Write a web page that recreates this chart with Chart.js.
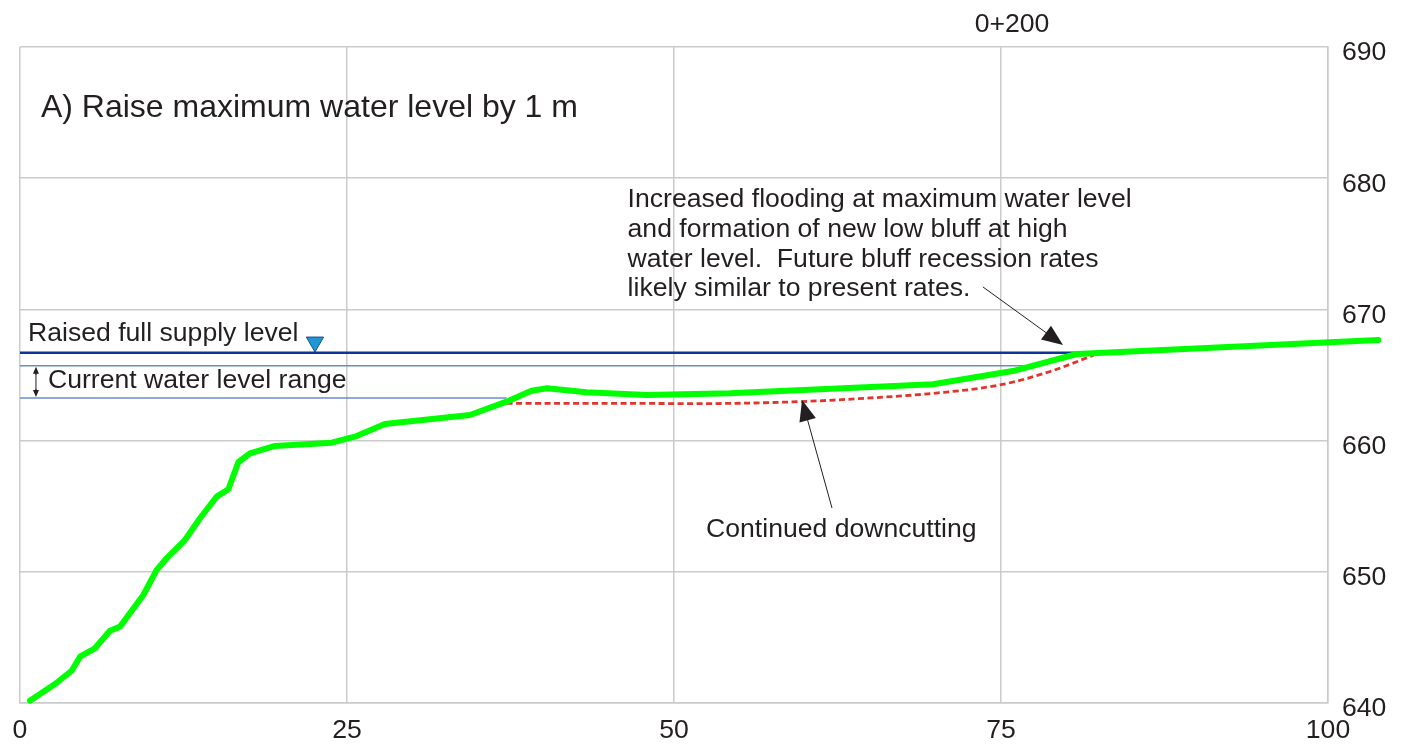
<!DOCTYPE html>
<html>
<head>
<meta charset="utf-8">
<title>Raise maximum water level by 1 m</title>
<script src="https://cdn.jsdelivr.net/npm/chart.js@4.4.1/dist/chart.umd.min.js"></script>
<style>
  html, body { margin: 0; padding: 0; background: #fff; }
  #wrap { width: 1405px; height: 745px; position: relative; }
</style>
</head>
<body>
<div id="wrap"><canvas id="chart"></canvas></div>
<script>
// Ground profile (distance, elevation)
const profileX = [0.76, 2.68, 3.95, 4.59, 5.73, 6.88, 7.65, 9.43, 10.45, 11.21, 12.61, 13.76,
  15.04, 15.93, 16.69, 17.58, 19.5, 23.83, 25.6, 27.9, 34.4, 37.2, 39.1, 40.3, 43.3, 47.9,
  54.3, 69.8, 75.9, 80.8, 103.85];
const profileY = [640.18, 641.45, 642.46, 643.53, 644.17, 645.51, 645.82, 648.23, 650.14, 651.03,
  652.42, 654.08, 655.73, 656.29, 658.35, 659.03, 659.59, 659.84, 660.3, 661.27, 661.95, 662.97,
  663.8, 663.99, 663.68, 663.48, 663.6, 664.3, 665.3, 666.6, 667.67];

// Future bed after continued downcutting
const downcutX = [37.2, 45, 52, 59.6, 65, 69.8, 74.9, 78.7, 82.06];
const downcutY = [662.84, 662.84, 662.82, 662.97, 663.25, 663.6, 664.24, 665.25, 666.5];

// Water levels
const raisedX = [0, 80.7];
const raisedY = [666.7, 666.7];
const currentHighX = [0, 77];
const currentHighY = [665.7, 665.7];
const currentLowX = [0, 37.2];
const currentLowY = [663.25, 663.25];
const markerX = [22.55];
const markerY = [667.51];

// Axis ticks
const xTicks = [0, 25, 50, 75, 100];
const yTicks = [640, 650, 660, 670, 680, 690];

const FONT = "'Liberation Sans', Arial, Helvetica, sans-serif";
const INK = '#231f20';
const GRID = '#cbcbcb';

function pts(xs, ys) {
  return xs.map((x, i) => ({ x: x, y: ys[i] }));
}

function arrow(ctx, x1, y1, x2, y2, len, half) {
  const a = Math.atan2(y2 - y1, x2 - x1);
  const c = Math.cos(a), s = Math.sin(a);
  ctx.beginPath();
  ctx.moveTo(x1, y1);
  ctx.lineTo(x2 - c * len * 0.8, y2 - s * len * 0.8);
  ctx.stroke();
  ctx.beginPath();
  ctx.moveTo(x2, y2);
  ctx.lineTo(x2 - c * len + s * half, y2 - s * len - c * half);
  ctx.lineTo(x2 - c * len - s * half, y2 - s * len + c * half);
  ctx.closePath();
  ctx.fill();
}

// Texts and arrows laid over the plot
const notes = {
  id: 'notes',
  afterDatasetsDraw(chart) {
    const ctx = chart.ctx;
    const sx = chart.scales.x, sy = chart.scales.y;
    const px = v => sx.getPixelForValue(v);
    const py = v => sy.getPixelForValue(v);
    ctx.save();
    ctx.fillStyle = INK;
    ctx.strokeStyle = INK;
    ctx.textBaseline = 'alphabetic';
    ctx.textAlign = 'left';

    ctx.font = '32px ' + FONT;
    ctx.fillText('A) Raise maximum water level by 1 m', px(1.6), py(684.66));

    ctx.font = '26.6px ' + FONT;
    ctx.fillText('Raised full supply level', px(0.61), py(667.61));
    ctx.fillText('Current water level range', px(2.14), py(663.99));

    const block = [
      'Increased flooding at maximum water level',
      'and formation of new low bluff at high',
      'water level.  Future bluff recession rates',
      'likely similar to present rates.'
    ];
    const base = [677.78, 675.54, 673.25, 671.02];
    block.forEach((t, i) => ctx.fillText(t, px(46.45), py(base[i])));

    ctx.fillText('Continued downcutting', px(52.45), py(652.65));

    ctx.textAlign = 'center';
    ctx.fillText('0+200', px(75.84), py(691.17));

    // arrows
    ctx.lineWidth = 1;
    arrow(ctx, px(73.62), py(671.71), px(79.74), py(667.29), 21, 8.5);
    arrow(ctx, px(62.08), py(654.86), px(59.79), py(663.09), 21, 8.5);

    // double-headed range arrow
    const ax = px(1.22);
    const top = py(665.62), bot = py(663.33);
    ctx.beginPath();
    ctx.moveTo(ax, top + 4);
    ctx.lineTo(ax, bot - 4);
    ctx.stroke();
    arrow(ctx, ax, top + 8, ax, top, 7, 3);
    arrow(ctx, ax, bot - 8, ax, bot, 7, 3);
    ctx.restore();
  }
};

const ctx = document.getElementById('chart').getContext('2d');
const chart = new Chart(ctx, {
  type: 'scatter',
  data: {
    datasets: [
      {
        label: 'Ground profile',
        data: pts(profileX, profileY),
        showLine: true,
        borderColor: '#00ff00',
        borderWidth: 6,
        pointRadius: 0,
        borderJoinStyle: 'round',
        borderCapStyle: 'round',
        clip: false
      },
      {
        label: 'Continued downcutting',
        data: pts(downcutX, downcutY),
        showLine: true,
        borderColor: '#e2342b',
        borderWidth: 2.8,
        borderDash: [6, 3.5],
        cubicInterpolationMode: 'monotone',
        pointRadius: 0
      },
      {
        label: 'Raised full supply level',
        data: pts(raisedX, raisedY),
        showLine: true,
        borderColor: '#0a3797',
        borderWidth: 2.5,
        pointRadius: 0
      },
      {
        label: 'Current high',
        data: pts(currentHighX, currentHighY),
        showLine: true,
        borderColor: '#6b8cc9',
        borderWidth: 1.5,
        pointRadius: 0
      },
      {
        label: 'Current low',
        data: pts(currentLowX, currentLowY),
        showLine: true,
        borderColor: '#6b8cc9',
        borderWidth: 1.5,
        pointRadius: 0
      },
      {
        label: 'Marker',
        data: pts(markerX, markerY),
        pointStyle: 'triangle',
        rotation: 180,
        pointRadius: 10,
        backgroundColor: '#1b98d5',
        borderColor: '#1f4f86',
        borderWidth: 1,
        clip: false
      }
    ]
  },
  options: {
    responsive: true,
    maintainAspectRatio: false,
    animation: false,
    events: [],
    layout: { padding: { left: 20, top: 47, right: 0, bottom: 0 } },
    plugins: {
      legend: { display: false },
      tooltip: { enabled: false },
      title: { display: false }
    },
    scales: {
      x: {
        type: 'linear',
        position: 'bottom',
        min: 0,
        max: 100,
        afterBuildTicks: s => { s.ticks = xTicks.map(v => ({ value: v })); },
        afterFit: s => { s.height = 42; },
        grid: { color: GRID, lineWidth: 1.5, drawTicks: false },
        border: { color: GRID, width: 1.5 },
        ticks: {
          padding: 12,
          maxRotation: 0,
          color: INK,
          font: { family: FONT, size: 26.6 }
        }
      },
      y: {
        type: 'linear',
        position: 'right',
        min: 640,
        max: 690,
        afterBuildTicks: s => { s.ticks = yTicks.map(v => ({ value: v })); },
        afterFit: s => { s.width = 77; },
        grid: { color: GRID, lineWidth: 1.5, drawTicks: false },
        border: { color: GRID, width: 1.5 },
        ticks: {
          padding: 14,
          labelOffset: 6,
          color: INK,
          font: { family: FONT, size: 26.6 }
        }
      }
    }
  },
  plugins: [notes]
});
</script>
</body>
</html>
